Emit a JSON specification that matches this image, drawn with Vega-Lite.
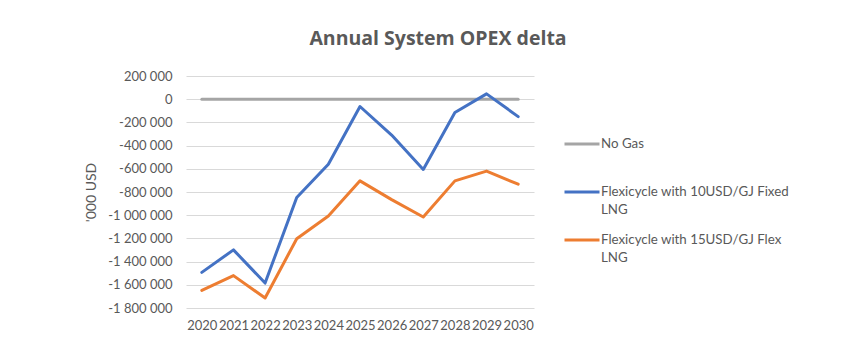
{
  "$schema": "https://vega.github.io/schema/vega-lite/v6.json",
  "autosize": "none",
  "width": 348,
  "height": 232,
  "padding": {"left": 186, "top": 76, "right": 333, "bottom": 48},
  "background": "white",
  "config": {
    "locale": {"number": {"decimal": ",", "thousands": " ", "grouping": [3], "currency": ["", ""], "minus": "-"}},
    "font": "Lato",
    "view": {"stroke": null},
    "style": {"guide-label": {"lineHeight": 17.5}}
  },
  "title": {
    "text": "Annual System OPEX delta",
    "font": "Open Sans",
    "fontSize": 19.5,
    "fontWeight": "bold",
    "color": "#595959",
    "anchor": "middle",
    "frame": "group",
    "dx": 78,
    "offset": 21
  },
  "data": {
    "values": [
      {"year": "2020", "series": "No Gas", "value": 0},
      {"year": "2021", "series": "No Gas", "value": 0},
      {"year": "2022", "series": "No Gas", "value": 0},
      {"year": "2023", "series": "No Gas", "value": 0},
      {"year": "2024", "series": "No Gas", "value": 0},
      {"year": "2025", "series": "No Gas", "value": 0},
      {"year": "2026", "series": "No Gas", "value": 0},
      {"year": "2027", "series": "No Gas", "value": 0},
      {"year": "2028", "series": "No Gas", "value": 0},
      {"year": "2029", "series": "No Gas", "value": 0},
      {"year": "2030", "series": "No Gas", "value": 0},
      {"year": "2020", "series": "Flexicycle with 10USD/GJ Fixed LNG", "value": -1493000},
      {"year": "2021", "series": "Flexicycle with 10USD/GJ Fixed LNG", "value": -1299000},
      {"year": "2022", "series": "Flexicycle with 10USD/GJ Fixed LNG", "value": -1585000},
      {"year": "2023", "series": "Flexicycle with 10USD/GJ Fixed LNG", "value": -848000},
      {"year": "2024", "series": "Flexicycle with 10USD/GJ Fixed LNG", "value": -560000},
      {"year": "2025", "series": "Flexicycle with 10USD/GJ Fixed LNG", "value": -63000},
      {"year": "2026", "series": "Flexicycle with 10USD/GJ Fixed LNG", "value": -309000},
      {"year": "2027", "series": "Flexicycle with 10USD/GJ Fixed LNG", "value": -606000},
      {"year": "2028", "series": "Flexicycle with 10USD/GJ Fixed LNG", "value": -115000},
      {"year": "2029", "series": "Flexicycle with 10USD/GJ Fixed LNG", "value": 46000},
      {"year": "2030", "series": "Flexicycle with 10USD/GJ Fixed LNG", "value": -150000},
      {"year": "2020", "series": "Flexicycle with 15USD/GJ Flex LNG", "value": -1648000},
      {"year": "2021", "series": "Flexicycle with 15USD/GJ Flex LNG", "value": -1521000},
      {"year": "2022", "series": "Flexicycle with 15USD/GJ Flex LNG", "value": -1714000},
      {"year": "2023", "series": "Flexicycle with 15USD/GJ Flex LNG", "value": -1203000},
      {"year": "2024", "series": "Flexicycle with 15USD/GJ Flex LNG", "value": -1007000},
      {"year": "2025", "series": "Flexicycle with 15USD/GJ Flex LNG", "value": -704000},
      {"year": "2026", "series": "Flexicycle with 15USD/GJ Flex LNG", "value": -866000},
      {"year": "2027", "series": "Flexicycle with 15USD/GJ Flex LNG", "value": -1016000},
      {"year": "2028", "series": "Flexicycle with 15USD/GJ Flex LNG", "value": -704000},
      {"year": "2029", "series": "Flexicycle with 15USD/GJ Flex LNG", "value": -620000},
      {"year": "2030", "series": "Flexicycle with 15USD/GJ Flex LNG", "value": -733000}
    ]
  },
  "mark": {"type": "line", "strokeWidth": 3, "strokeCap": "round", "strokeJoin": "round"},
  "encoding": {
    "x": {
      "field": "year",
      "type": "ordinal",
      "scale": {"type": "point", "padding": 0.5},
      "axis": {
        "title": null,
        "labelAngle": 0,
        "labelFontSize": 13,
        "labelColor": "#595959",
        "labelPadding": 11,
        "labelFont": "Lato",
        "domain": false,
        "ticks": false,
        "grid": false
      }
    },
    "y": {
      "field": "value",
      "type": "quantitative",
      "scale": {"domain": [-1800000, 200000], "nice": false, "zero": false},
      "axis": {
        "title": "'000 USD",
        "titleFont": "Lato",
        "titleFontSize": 14,
        "titleFontWeight": "normal",
        "titleColor": "#595959",
        "titlePadding": 9,
        "values": [-1800000, -1600000, -1400000, -1200000, -1000000, -800000, -600000, -400000, -200000, 0, 200000],
        "format": ",.0f",
        "labelFontSize": 13,
        "labelColor": "#595959",
        "labelPadding": 14,
        "domain": false,
        "ticks": false,
        "gridColor": "#d9d9d9",
        "gridWidth": 1
      }
    },
    "color": {
      "field": "series",
      "type": "nominal",
      "scale": {
        "domain": ["No Gas", "Flexicycle with 10USD/GJ Fixed LNG", "Flexicycle with 15USD/GJ Flex LNG"],
        "range": ["#a5a5a5", "#4472c4", "#ed7d31"]
      },
      "legend": {
        "title": null,
        "orient": "none",
        "legendX": 377,
        "legendY": 49,
        "symbolType": "stroke",
        "symbolSize": 1225,
        "symbolStrokeWidth": 3,
        "labelFontSize": 13.3,
        "labelColor": "#595959",
        "labelFont": "Lato",
        "labelOffset": 0,
        "labelBaseline": "middle",
        "labelLimit": 300,
        "rowPadding": 5,
        "labelExpr": "indexof(datum.label, ' LNG') < 0 ? [datum.label, ' '] : [slice(datum.label, 0, lastindexof(datum.label, ' ')), slice(datum.label, lastindexof(datum.label, ' ') + 1)]"
      }
    }
  }
}
